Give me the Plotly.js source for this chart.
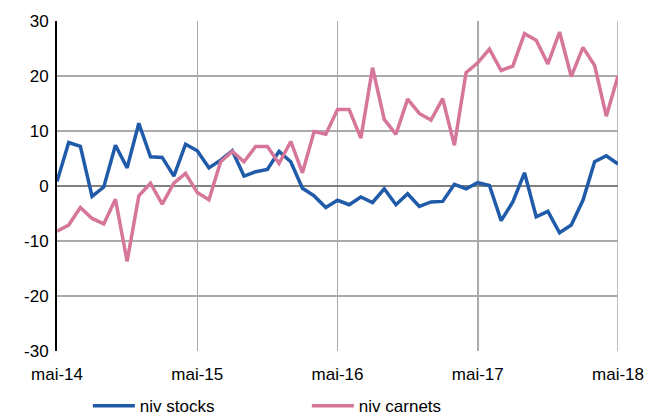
<!DOCTYPE html>
<html>
<head>
<meta charset="utf-8">
<script src="https://cdn.plot.ly/plotly-3.0.1.min.js"></script>
<style>html,body{margin:0;padding:0;background:#fff;}#chart{width:654px;height:418px;}</style>
</head>
<body>
<div id="chart"></div>
<script>
// Months from mai-14 to mai-18 (index 0..48)
const tickLabels = ["mai-14", "mai-15", "mai-16", "mai-17", "mai-18"];
const tickPositions = [0, 12, 24, 36, 48];
const yTickValues = [-30, -20, -10, 0, 10, 20, 30];
const yTickLabels = ["-30", "-20", "-10", "0", "10", "20", "30"];

const nivStocks = [
  0.8, 7.9, 7.2, -1.9, -0.2, 7.4, 3.3, 11.4, 5.3, 5.2, 1.8, 7.6,
  6.4, 3.3, 4.7, 6.4, 1.8, 2.6, 3.0, 6.3, 4.4, -0.4, -1.8, -3.9,
  -2.6, -3.4, -2.0, -3.0, -0.5, -3.4, -1.4, -3.7, -2.9, -2.8, 0.3, -0.5,
  0.6, 0.1, -6.3, -2.9, 2.4, -5.6, -4.6, -8.5, -7.1, -2.6, 4.4, 5.5,
  4.0
];

const nivCarnets = [
  -8.2, -7.1, -3.9, -5.9, -6.9, -2.4, -13.7, -1.8, 0.5, -3.3, 0.5, 2.3,
  -1.2, -2.5, 4.4, 6.3, 4.4, 7.2, 7.2, 4.1, 8.1, 2.4, 9.9, 9.4,
  13.9, 13.9, 8.7, 21.5, 12.1, 9.4, 15.8, 13.2, 12.0, 15.9, 7.4, 20.6,
  22.4, 24.9, 21.0, 21.8, 27.7, 26.5, 22.2, 28.0, 19.9, 25.2, 21.9, 12.7,
  20.0
];

const monthIndex = nivStocks.map((_, i) => i);

const traces = [
  {x: monthIndex, y: nivStocks, type: "scatter", mode: "lines", name: "niv stocks",
   line: {color: "#1f5ba8", width: 3.5}},
  {x: monthIndex, y: nivCarnets, type: "scatter", mode: "lines", name: "niv carnets",
   line: {color: "#d6769a", width: 3.5}}
];

const layout = {
  width: 654, height: 418,
  margin: {l: 57, r: 36, t: 21, b: 67, autoexpand: false},
  paper_bgcolor: "#fff", plot_bgcolor: "#fff",
  font: {family: "Liberation Sans, Arial, sans-serif", size: 17, color: "#000"},
  showlegend: true,
  legend: {orientation: "h", x: 0.055, xanchor: "left", y: -0.167, yanchor: "middle",
           font: {size: 17}, itemwidth: 42, entrywidth: 162, entrywidthmode: "pixels",
           bgcolor: "rgba(0,0,0,0)"},
  xaxis: {
    range: [0, 48], tickmode: "array", tickvals: tickPositions, ticktext: tickLabels,
    showgrid: true, gridcolor: "#aaaaaa", gridwidth: 1.5,
    zeroline: false, showline: false, ticks: "", ticklen: 0,
    ticklabelstandoff: 11, automargin: false
  },
  yaxis: {
    range: [-30, 30], tickmode: "array", tickvals: yTickValues, ticktext: yTickLabels,
    showgrid: true, gridcolor: "#aaaaaa", gridwidth: 1.5,
    zeroline: true, zerolinecolor: "#808080", zerolinewidth: 2,
    showline: true, linecolor: "#000", linewidth: 2, ticks: "", ticklen: 0,
    ticklabelstandoff: 3, automargin: false
  },
  shapes: [
    {type: "line", xref: "x", yref: "y", x0: 48, x1: 48, y0: -30, y1: 30,
     line: {color: "#aaaaaa", width: 1.5}, layer: "below"}
  ]
};

Plotly.newPlot("chart", traces, layout, {displayModeBar: false, staticPlot: true});
</script>
</body>
</html>
